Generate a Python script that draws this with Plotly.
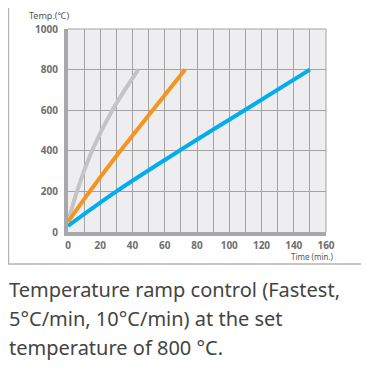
import plotly.graph_objects as go

# Data
gray_time = [0, 5.6, 14.9, 27.5, 43.6]
gray_temp = [50, 200, 400, 600, 800]

orange_time = [0, 13.5, 32.5, 52.5, 72.7]
orange_temp = [50, 200, 400, 600, 800]

blue_time = [0, 30, 69, 109.5, 150]
blue_temp = [30, 200, 400, 600, 800]

x_ticks = [0, 20, 40, 60, 80, 100, 120, 140, 160]
y_ticks = [0, 200, 400, 600, 800, 1000]

caption_lines = [
    "Temperature ramp control (Fastest,",
    "5°C/min, 10°C/min) at the set",
    "temperature of 800 °C.",
]

# page is rendered with an 8px body margin; work in page pixels
OFF = 8
PAGE_W, PAGE_H = 369, 385
W, H = PAGE_W - OFF, PAGE_H - OFF
PLOT_L, PLOT_R, PLOT_T, PLOT_B = 68, 326, 29, 232  # page px
L = PLOT_L - OFF
T = PLOT_T - OFF
R = W - (PLOT_R - OFF)
B = H - (PLOT_B - OFF)
pw = PLOT_R - PLOT_L
ph = PLOT_B - PLOT_T

def px(xp):
    return (xp - PLOT_L) / pw

def py(yp):
    return (PLOT_B - yp) / ph

fig = go.Figure()
fig.add_trace(go.Scatter(x=gray_time, y=gray_temp, mode="lines",
                         line=dict(color="#C4C4C4", width=4, shape="spline", smoothing=1.0),
                         hoverinfo="skip"))
fig.add_trace(go.Scatter(x=orange_time, y=orange_temp, mode="lines",
                         line=dict(color="#F7941D", width=4, shape="spline", smoothing=0.8),
                         hoverinfo="skip"))
fig.add_trace(go.Scatter(x=blue_time, y=blue_temp, mode="lines",
                         line=dict(color="#00AEEF", width=4, shape="spline", smoothing=1.0),
                         hoverinfo="skip"))

grid_c = "#A3A3A3"
tick_font = dict(family="Noto Sans", size=10, color="#6E6E6E", weight="bold")

fig.update_xaxes(range=[0, 160], tickvals=x_ticks, showgrid=True, gridcolor=grid_c, gridwidth=1,
                 minor=dict(dtick=10, showgrid=True, gridcolor=grid_c, gridwidth=1),
                 showline=True, linecolor="#A8A8A8", linewidth=4, zeroline=False,
                 ticks="", tickfont=tick_font, ticklabelstandoff=1, fixedrange=True,
                 automargin=False)
fig.update_yaxes(range=[0, 1000], tickvals=y_ticks, showgrid=True, gridcolor=grid_c, gridwidth=1,
                 showline=True, linecolor="#A8A8A8", linewidth=4, zeroline=False,
                 ticks="", tickfont=tick_font, ticklabelstandoff=4, fixedrange=True,
                 automargin=False)

shapes = [
    # outer frame
    dict(type="rect", xref="paper", yref="paper", x0=px(8.5), x1=px(362), y0=py(264), y1=py(5),
         line=dict(color="#B4B4B4", width=1.5), layer="below"),
    # top / right plot border
    dict(type="line", xref="x domain", yref="y domain", x0=0, x1=1, y0=1, y1=1,
         line=dict(color=grid_c, width=1), layer="below"),
    dict(type="line", xref="x domain", yref="y domain", x0=1, x1=1, y0=0, y1=1,
         line=dict(color=grid_c, width=1), layer="below"),
]

annotations = [
    dict(text="Temp.(℃)", xref="paper", yref="paper", x=px(27), y=py(15), xanchor="left",
         yanchor="middle", showarrow=False, font=dict(family="Noto Sans", size=9, color="#555555")),
    dict(text="Time (min.)", xref="paper", yref="paper", x=px(336), y=py(256), xanchor="right",
         yanchor="middle", showarrow=False, font=dict(family="Noto Sans", size=8, color="#555555")),
]
cap_y = [289, 318, 347]
for t, yy in zip(caption_lines, cap_y):
    annotations.append(dict(text=t, xref="paper", yref="paper", x=px(7), y=py(yy), xanchor="left",
                            yanchor="middle", showarrow=False,
                            font=dict(family="Noto Sans", size=20, color="#444444")))

fig.update_layout(width=W, height=H, margin=dict(l=L, r=R, t=T, b=B, pad=0),
                  paper_bgcolor="white", plot_bgcolor="#EEEEF0", showlegend=False,
                  shapes=shapes, annotations=annotations)

fig.write_html("out.html", config={"displayModeBar": False})
